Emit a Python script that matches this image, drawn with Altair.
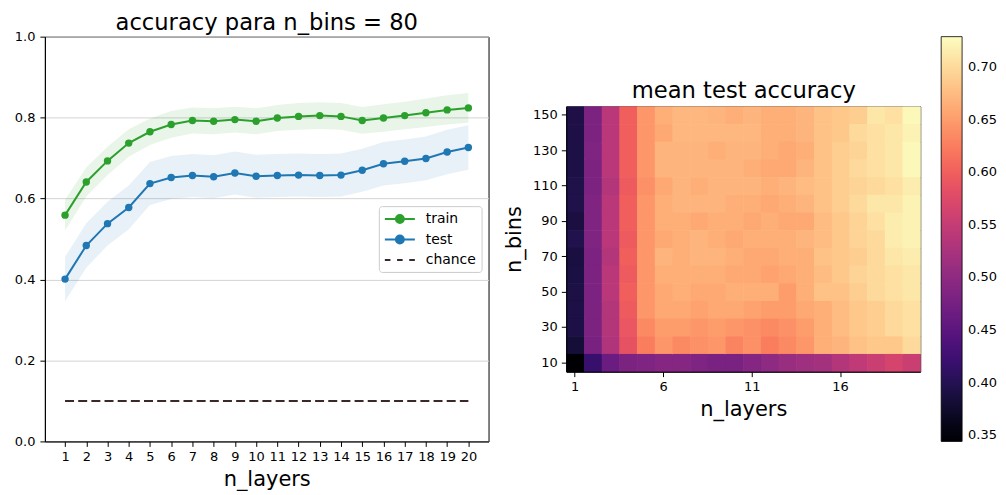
import altair as alt
import pandas as pd

# ---------------- data ----------------
n_layers = list(range(1, 21))
train_mean = [0.559, 0.641, 0.693, 0.737, 0.765, 0.783, 0.793, 0.791, 0.795, 0.791,
              0.799, 0.803, 0.805, 0.803, 0.793, 0.799, 0.805, 0.812, 0.819, 0.824]
train_std = [0.038, 0.036, 0.035, 0.034, 0.033, 0.033, 0.032, 0.032, 0.032, 0.032,
             0.032, 0.033, 0.033, 0.033, 0.033, 0.034, 0.034, 0.035, 0.036, 0.037]
test_mean = [0.401, 0.484, 0.538, 0.578, 0.637, 0.652, 0.657, 0.654, 0.663, 0.655,
             0.657, 0.658, 0.657, 0.658, 0.670, 0.686, 0.692, 0.699, 0.715, 0.726]
test_std = [0.055, 0.055, 0.054, 0.054, 0.053, 0.053, 0.053, 0.053, 0.053, 0.053,
            0.053, 0.053, 0.053, 0.053, 0.053, 0.054, 0.054, 0.054, 0.055, 0.055]
chance_level = 0.1

series_names = ["train", "test", "chance"]

heat_layers = list(range(1, 21))
heat_bins = [150, 140, 130, 120, 110, 100, 90, 80, 70, 60, 50, 40, 30, 20, 10]
heat_rows = [
    [0.393, 0.482, 0.540, 0.600, 0.645, 0.665, 0.672, 0.672, 0.670, 0.665, 0.670, 0.665, 0.665, 0.670, 0.680, 0.685, 0.690, 0.710, 0.705, 0.725],
    [0.393, 0.482, 0.540, 0.600, 0.645, 0.660, 0.672, 0.672, 0.672, 0.672, 0.672, 0.665, 0.665, 0.670, 0.680, 0.685, 0.700, 0.705, 0.710, 0.720],
    [0.392, 0.486, 0.540, 0.600, 0.645, 0.670, 0.670, 0.670, 0.665, 0.670, 0.670, 0.665, 0.660, 0.665, 0.680, 0.690, 0.695, 0.705, 0.710, 0.725],
    [0.392, 0.482, 0.540, 0.600, 0.645, 0.670, 0.670, 0.670, 0.670, 0.670, 0.665, 0.660, 0.660, 0.670, 0.680, 0.690, 0.700, 0.705, 0.710, 0.725],
    [0.394, 0.482, 0.535, 0.595, 0.640, 0.660, 0.670, 0.665, 0.670, 0.670, 0.670, 0.665, 0.670, 0.675, 0.680, 0.690, 0.695, 0.700, 0.705, 0.715],
    [0.395, 0.486, 0.540, 0.600, 0.645, 0.665, 0.670, 0.670, 0.670, 0.665, 0.665, 0.660, 0.665, 0.670, 0.680, 0.690, 0.700, 0.710, 0.710, 0.720],
    [0.388, 0.486, 0.540, 0.600, 0.645, 0.665, 0.665, 0.660, 0.665, 0.665, 0.660, 0.665, 0.660, 0.660, 0.675, 0.685, 0.695, 0.705, 0.715, 0.720],
    [0.396, 0.486, 0.540, 0.595, 0.645, 0.660, 0.665, 0.670, 0.665, 0.660, 0.665, 0.665, 0.665, 0.670, 0.675, 0.685, 0.695, 0.700, 0.715, 0.720],
    [0.388, 0.482, 0.535, 0.600, 0.645, 0.670, 0.665, 0.670, 0.670, 0.665, 0.660, 0.660, 0.665, 0.665, 0.680, 0.685, 0.690, 0.700, 0.710, 0.715],
    [0.390, 0.482, 0.540, 0.595, 0.645, 0.665, 0.665, 0.665, 0.665, 0.660, 0.660, 0.655, 0.660, 0.665, 0.675, 0.685, 0.695, 0.700, 0.705, 0.710],
    [0.391, 0.482, 0.540, 0.600, 0.645, 0.660, 0.665, 0.660, 0.660, 0.665, 0.665, 0.665, 0.650, 0.665, 0.680, 0.680, 0.690, 0.700, 0.705, 0.710],
    [0.392, 0.482, 0.535, 0.595, 0.645, 0.660, 0.660, 0.655, 0.660, 0.660, 0.655, 0.650, 0.650, 0.660, 0.665, 0.675, 0.685, 0.690, 0.700, 0.705],
    [0.392, 0.482, 0.535, 0.590, 0.635, 0.650, 0.650, 0.645, 0.650, 0.645, 0.640, 0.635, 0.640, 0.650, 0.665, 0.675, 0.685, 0.690, 0.700, 0.705],
    [0.383, 0.478, 0.530, 0.585, 0.625, 0.645, 0.635, 0.640, 0.645, 0.630, 0.640, 0.625, 0.635, 0.645, 0.665, 0.670, 0.680, 0.685, 0.685, 0.700],
    [0.344, 0.418, 0.465, 0.482, 0.485, 0.490, 0.490, 0.485, 0.480, 0.480, 0.490, 0.500, 0.510, 0.515, 0.520, 0.535, 0.545, 0.555, 0.565, 0.555],
]
color_ticks = [0.35, 0.40, 0.45, 0.50, 0.55, 0.60, 0.65, 0.70]
color_domain = [0.344, 0.729]

# ---------------- styles ----------------
GREEN = "#2ca02c"
BLUE = "#1f77b4"
CHANCE = "#3b2828"
FONT = "DejaVu Sans"
# legend glyphs (unit = 7 px with symbolSize 196): line with a marker, and a dashed line
MARKER_PATH = ("M-1,0L3.3,0M1.72,0A0.57,0.57,0,1,1,0.58,0A0.57,0.57,0,1,1,1.72,0Z")
DASH_PATH = "M-1,0L-0.2,0M0.75,0L1.55,0M2.5,0L3.3,0"

df = pd.DataFrame({
    "n_layers": n_layers,
    "train": train_mean,
    "test": test_mean,
    "chance": [chance_level] * len(n_layers),
})
df["train_lo"] = [m - s for m, s in zip(train_mean, train_std)]
df["train_hi"] = [m + s for m, s in zip(train_mean, train_std)]
df["test_lo"] = [m - s for m, s in zip(test_mean, test_std)]
df["test_hi"] = [m + s for m, s in zip(test_mean, test_std)]

x_scale = alt.Scale(domain=[0.05, 20.95], nice=False, zero=False)
y_scale = alt.Scale(domain=[0, 1], nice=False)
x_axis = alt.Axis(values=n_layers, title="n_layers", grid=False, labelAngle=0)
y_axis = alt.Axis(values=[0, 0.2, 0.4, 0.6, 0.8, 1.0], format=".1f", title=None,
                  grid=True, gridColor="#d4d4d4", gridWidth=1, labelPadding=5)

X = alt.X("n_layers:Q", scale=x_scale, axis=x_axis)

base = alt.Chart(df)


def Y(field):
    return alt.Y(f"{field}:Q", scale=y_scale, axis=y_axis)


train_band = base.mark_area(color=GREEN, opacity=0.1).encode(x=X, y=Y("train_lo"), y2="train_hi:Q")
test_band = base.mark_area(color=BLUE, opacity=0.1).encode(x=X, y=Y("test_lo"), y2="test_hi:Q")
train_line = base.mark_line(color=GREEN, strokeWidth=2).encode(x=X, y=Y("train"))
test_line = base.mark_line(color=BLUE, strokeWidth=2).encode(x=X, y=Y("test"))
train_pts = base.mark_point(filled=True, color=GREEN, size=55, opacity=1).encode(x=X, y=Y("train"))
test_pts = base.mark_point(filled=True, color=BLUE, size=55, opacity=1).encode(x=X, y=Y("test"))
chance_line = base.mark_line(color=CHANCE, strokeDash=[9, 4.2], strokeWidth=2).encode(x=X, y=Y("chance"))

leg = alt.Legend(title=None, orient="none", legendX=335, legendY=170,
                 fillColor="white", strokeColor="#cccccc", cornerRadius=3,
                 padding=5, symbolSize=196, symbolStrokeWidth=2, symbolOpacity=1,
                 labelFontSize=14, labelFont=FONT, labelColor="black",
                 labelOffset=26, rowPadding=4.5)
legend_layer = alt.Chart(pd.DataFrame({"series": series_names})).mark_point(
    filled=True, opacity=0, strokeWidth=2
).encode(
    fill=alt.Fill("series:N", scale=alt.Scale(domain=series_names, range=[GREEN, BLUE, CHANCE]), legend=leg),
    stroke=alt.Stroke("series:N", scale=alt.Scale(domain=series_names, range=[GREEN, BLUE, CHANCE]), legend=leg),
    shape=alt.Shape("series:N", scale=alt.Scale(domain=series_names, range=[MARKER_PATH, MARKER_PATH, DASH_PATH]), legend=leg),
)

left = alt.layer(
    train_band, test_band, chance_line, train_line, test_line, train_pts, test_pts, legend_layer
).properties(width=445, height=406, title=alt.TitleParams("accuracy para n_bins = 80"))

# ---------------- heatmap ----------------
heat_records = []
for b, row in zip(heat_bins, heat_rows):
    for l, v in zip(heat_layers, row):
        heat_records.append({"n_layers": l, "n_bins": b, "acc": v})
heat_df = pd.DataFrame(heat_records)

cscale = alt.Scale(scheme="magma", domain=color_domain, nice=False, zero=False)
hx_scale = alt.Scale(paddingInner=0, paddingOuter=0)
hy_scale = alt.Scale(paddingInner=0, paddingOuter=0)
HY = alt.Y("n_bins:O", sort="descending", scale=hy_scale,
           axis=alt.Axis(values=[10, 30, 50, 70, 90, 110, 130, 150], title="n_bins", titlePadding=8))
heat_legend = alt.Legend(title=None, orient="none",
                         legendX=376, legendY=-70,
                         direction="vertical", gradientLength=406,
                         gradientThickness=21, values=color_ticks, format=".2f",
                         gradientStrokeColor="black", gradientStrokeWidth=0.8,
                         labelFontSize=13, labelFont=FONT, labelColor="black",
                         labelOffset=6, labelOverlap=False)

# under-layer: same filled cells nudged half a pixel (hides anti-aliasing seams)
heat_under = alt.Chart(heat_df).mark_rect(xOffset=0.5, yOffset=0.5).encode(
    x=alt.X("n_layers:O", scale=hx_scale, axis=None),
    y=HY,
    color=alt.Color("acc:Q", scale=cscale, legend=heat_legend),
)
heat_main = alt.Chart(heat_df).mark_rect().encode(
    x=alt.X("n_layers:O", scale=hx_scale,
            axis=alt.Axis(values=[1, 6, 11, 16], labelAngle=0, title="n_layers")),
    y=HY,
    color=alt.Color("acc:Q", scale=cscale, legend=heat_legend),
)
heat_title = alt.Chart(heat_df).mark_rect(opacity=0).encode(
    x=alt.X("n_layers:O", scale=hx_scale,
            axis=alt.Axis(orient="top", title="mean test accuracy", labels=False, ticks=False,
                          domain=False, titleFontSize=22.7, titlePadding=4)),
    y=HY,
)
heat = alt.layer(heat_under, heat_main, heat_title).resolve_axis(x="independent").properties(width=355, height=266)

chart = alt.hconcat(left, heat, spacing=78, center=True, bounds="flush").resolve_scale(
    x="independent", y="independent", color="independent", fill="independent",
    stroke="independent", shape="independent"
).properties(
    padding={"left": 5, "top": 2, "right": 0, "bottom": 0}
).configure_view(
    stroke="black", strokeWidth=1
).configure_axis(
    labelFont=FONT, labelFontSize=13, labelColor="black",
    titleFont=FONT, titleFontSize=21, titleFontWeight="normal", titleColor="black",
    domainColor="black", tickColor="black", tickSize=5, labelPadding=4, titlePadding=5
).configure_title(
    font=FONT, fontSize=22.7, fontWeight="normal", color="black", anchor="middle", offset=-4
)

chart.save("out.html", embed_options={"renderer": "svg", "actions": False})
